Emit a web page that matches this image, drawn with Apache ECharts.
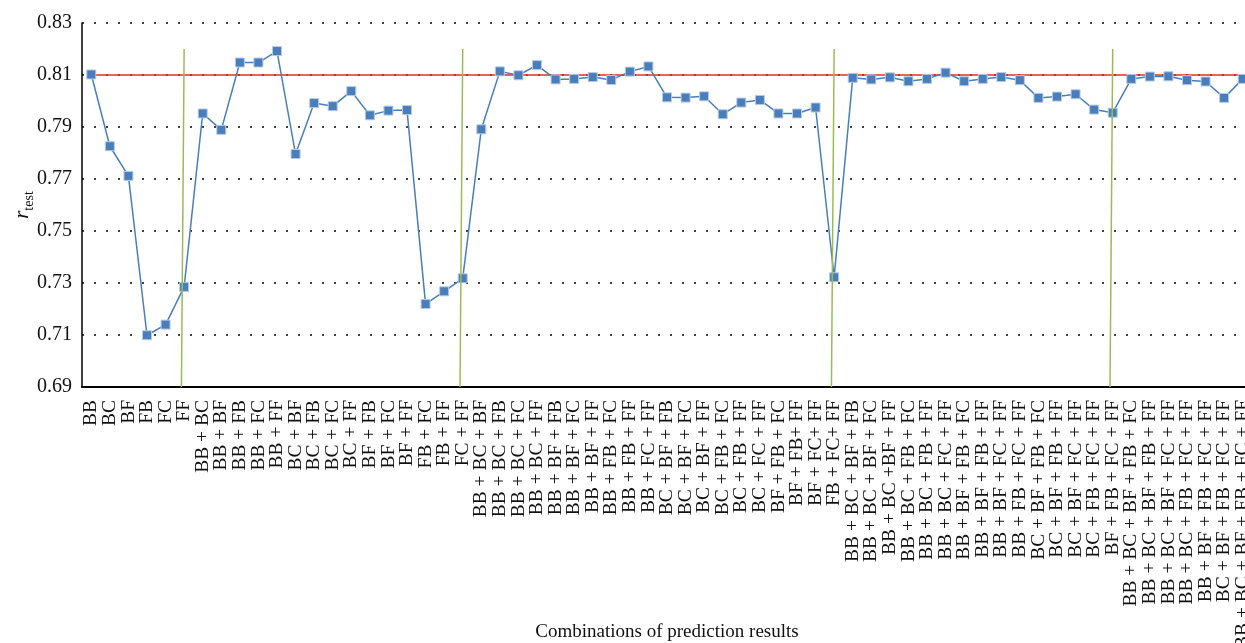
<!DOCTYPE html>
<html>
<head>
<meta charset="utf-8">
<script src="https://cdn.jsdelivr.net/npm/echarts@6/dist/echarts.min.js"></script>
<style>html,body{margin:0;padding:0;background:#fff}#c{width:1245px;height:643px}</style>
</head>
<body>
<div id="c"></div>
<script>
const categories = [
  'BB','BC','BF','FB','FC','FF',
  'BB + BC','BB + BF','BB + FB','BB + FC','BB + FF','BC + BF','BC + FB','BC + FC','BC + FF',
  'BF + FB','BF + FC','BF + FF','FB + FC','FB + FF','FC + FF',
  'BB + BC + BF','BB + BC + FB','BB + BC + FC','BB + BC + FF','BB + BF + FB','BB + BF + FC',
  'BB + BF + FF','BB + FB + FC','BB + FB + FF','BB + FC + FF','BC + BF + FB','BC + BF + FC',
  'BC + BF + FF','BC + FB + FC','BC + FB + FF','BC + FC + FF','BF + FB + FC','BF + FB+ FF',
  'BF + FC+ FF','FB + FC+ FF',
  'BB + BC + BF + FB','BB + BC + BF + FC','BB + BC +BF + FF','BB + BC + FB + FC','BB + BC + FB + FF',
  'BB + BC + FC + FF','BB + BF + FB + FC','BB + BF + FB + FF','BB + BF + FC + FF','BB + FB + FC + FF',
  'BC + BF + FB + FC','BC + BF + FB + FF','BC + BF + FC + FF','BC + FB + FC + FF','BF + FB + FC + FF',
  'BB + BC + BF + FB + FC','BB + BC + BF + FB + FF','BB + BC + BF + FC + FF','BB + BC + FB + FC + FF',
  'BB + BF + FB + FC + FF','BC + BF + FB + FC + FF','BB + BC + BF + FB + FC + FF'
];
const rTest = [
  0.8102, 0.7826, 0.7712, 0.7099, 0.7140, 0.7285,
  0.7952, 0.7889, 0.8148, 0.8148, 0.8192, 0.7796, 0.7992, 0.7980, 0.8038, 0.7945, 0.7963, 0.7965, 0.7219, 0.7268, 0.7318,
  0.7891, 0.8114, 0.8099, 0.8138, 0.8083, 0.8085, 0.8092, 0.8081, 0.8113, 0.8133, 0.8014, 0.8013, 0.8018, 0.7949, 0.7994, 0.8004, 0.7952, 0.7952, 0.7975, 0.7322,
  0.8089, 0.8083, 0.8091, 0.8076, 0.8085, 0.8109, 0.8076, 0.8085, 0.8092, 0.8080, 0.8012, 0.8017, 0.8026, 0.7967, 0.7955,
  0.8085, 0.8094, 0.8095, 0.8080, 0.8075, 0.8012, 0.8085
];
const referenceLevel = 0.81;
const dividerIdx = [5, 20, 40, 55];
const dividerTop = 0.82;
const dividerLean = 0.145;
const yMin = 0.69, yMax = 0.83, yStep = 0.02;

const serif = '"Liberation Serif","DejaVu Serif",serif';
const chart = echarts.init(document.getElementById('c'));
const dividerSeries = dividerIdx.map(i => ({
  type: 'line', xAxisIndex: 1, yAxisIndex: 0, symbol: 'none', silent: true, z: 5,
  lineStyle: { color: '#9bbb59', width: 1.5 },
  data: [[i, dividerTop], [i - dividerLean, yMin]]
}));
chart.setOption({
  animation: false,
  grid: { left: 82, right: -7, top: 23, bottom: 256, containLabel: false, outerBoundsMode: 'none' },
  xAxis: [{
    type: 'category', data: categories, boundaryGap: true,
    axisLine: { onZero: false, lineStyle: { color: '#000', width: 2 } },
    axisTick: { show: false },
    axisLabel: { rotate: 90, interval: 0, margin: 13, fontFamily: serif, fontSize: 19.5, color: '#111' },
    splitLine: { show: false },
    name: 'Combinations of prediction results', nameLocation: 'middle', nameGap: 236, nameMoveOverlap: false,
    nameTextStyle: { fontFamily: serif, fontSize: 19, color: '#111' }
  }, {
    type: 'value', min: -0.5, max: categories.length - 0.5, show: false
  }],
  yAxis: {
    type: 'value', min: yMin, max: yMax, interval: yStep,
    axisLine: { show: true, onZero: false, lineStyle: { color: '#000', width: 1.5 } },
    axisTick: { show: false },
    axisLabel: { fontFamily: serif, fontSize: 20, color: '#111', margin: 10, formatter: v => v.toFixed(2) },
    splitLine: { show: true, showMinLine: false, lineStyle: { color: '#444', width: 2, type: [2, 10] } },
    name: '{r|r}{s|test}', nameLocation: 'middle', nameGap: 46, nameRotate: 90, nameMoveOverlap: false,
    nameTextStyle: {
      rich: {
        r: { fontFamily: serif, fontStyle: 'italic', fontSize: 21, color: '#111', padding: [0, 0, 3, 0], verticalAlign: 'bottom' },
        s: { fontFamily: serif, fontSize: 14, color: '#111', verticalAlign: 'bottom' }
      }
    }
  },
  series: [{
    type: 'line', data: rTest, z: 3,
    symbol: 'rect', symbolSize: 9,
    lineStyle: { color: '#4a7ebb', width: 1.5 },
    itemStyle: { color: '#4a7ebb', borderColor: '#b7cbe6', borderWidth: 1 },
    markLine: {
      silent: true, symbol: 'none', label: { show: false }, z: 2,
      lineStyle: { color: '#d6352b', width: 1.5, type: 'solid' },
      data: [[{ coord: [categories[0], referenceLevel] }, { coord: [categories[categories.length - 1], referenceLevel] }]]
    }
  }].concat(dividerSeries)
});
</script>
</body>
</html>
